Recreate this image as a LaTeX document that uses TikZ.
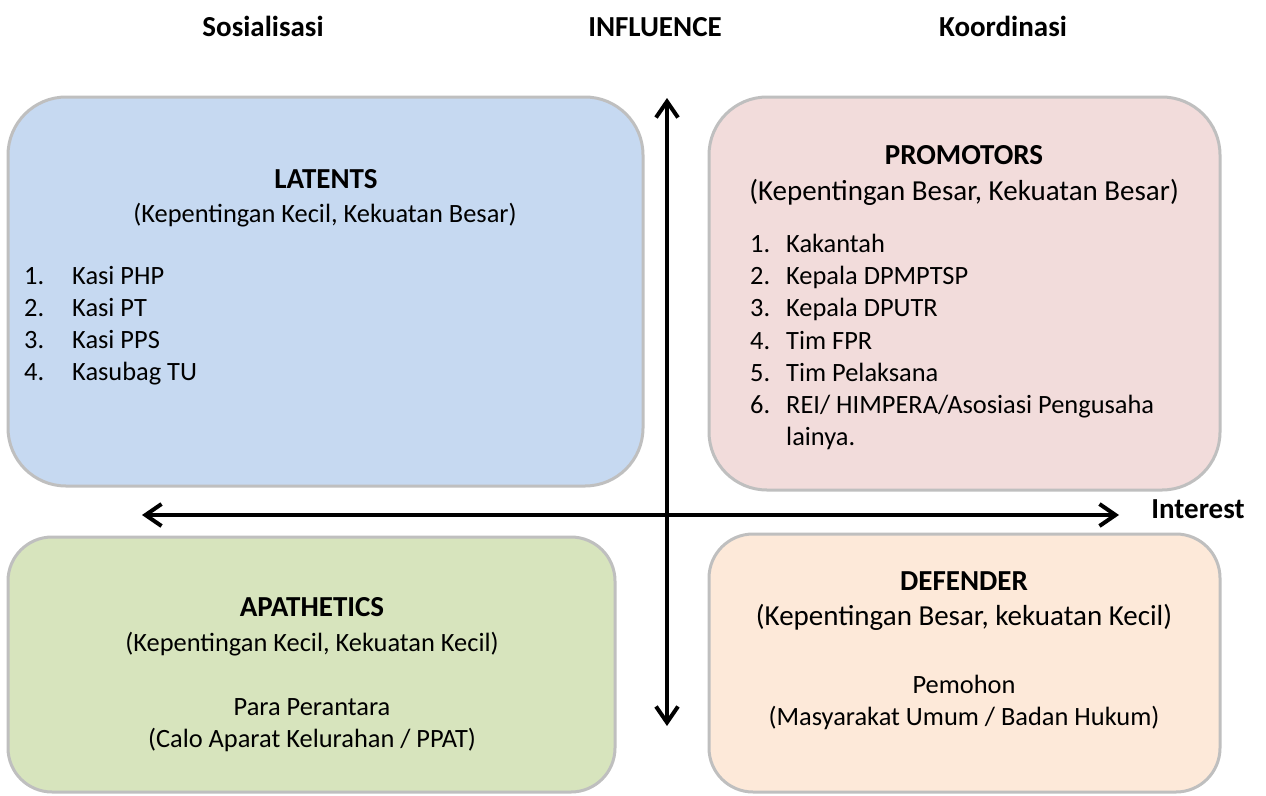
\documentclass[tikz,border=0pt]{standalone}
\usepackage{fontspec}
\setmainfont{Carlito}
\usetikzlibrary{arrows.meta}
\definecolor{boxblue}{HTML}{C6D9F1}
\definecolor{boxpink}{HTML}{F2DCDB}
\definecolor{boxgreen}{HTML}{D7E4BD}
\definecolor{boxorange}{HTML}{FDE9D9}
\definecolor{boxline}{HTML}{BFBFBF}
\begin{document}
\begin{tikzpicture}[x=1pt,y=-1pt,
  quad/.style={draw=boxline, line width=3pt, inner sep=0pt, outer sep=0pt},
  barb/.tip={Straight Barb[length=16pt,width=22pt,line width=4pt]},
  axisline/.style={line width=4pt, barb-barb},
  hd/.style={font=\fontsize{29}{34}\selectfont\bfseries, anchor=base, inner sep=0pt},
  bigsub/.style={font=\fontsize{29}{34}\selectfont, anchor=base, inner sep=0pt},
  sub/.style={font=\fontsize{26.4}{32}\selectfont, anchor=base, inner sep=0pt},
  item/.style={font=\fontsize{26.4}{32}\selectfont, anchor=base west, inner sep=0pt},
]
\useasboundingbox (0,0) rectangle (1266,795);
% boxes
\node[quad, fill=boxblue, rounded corners=58pt, minimum width=635pt, minimum height=389pt] (latents) at (325.5,291.5) {};
\node[quad, fill=boxpink, rounded corners=58pt, minimum width=511pt, minimum height=393pt] (promotors) at (964.5,293.5) {};
\node[quad, fill=boxgreen, rounded corners=44pt, minimum width=607pt, minimum height=255pt] (apathetics) at (311.5,664.5) {};
\node[quad, fill=boxorange, rounded corners=44pt, minimum width=511pt, minimum height=258pt] (defender) at (964.5,663) {};
% axes
\coordinate (vtop) at (667,98);
\coordinate (vbot) at (667,726);
\coordinate (hleft) at (142,515);
\coordinate (hright) at (1119,515);
\draw[axisline] (vbot) -- (vtop);
\draw[axisline] (hleft) -- (hright);
% headers
\node[hd] (sos) at (263,36) {Sosialisasi};
\node[hd] (infl) at (655,36) {INFLUENCE};
\node[hd] (koord) at (1003,36) {Koordinasi};
\node[hd] (interest) at (1198,518) {Interest};
% latents
\node[hd] (latT) at (326,188) {LATENTS};
\node[sub] (latS) at (325,222) {(Kepentingan Kecil, Kekuatan Besar)};
\node[item] (l1n) at (24,284) {1.};
\node[item] (l1) at (72,284) {Kasi PHP};
\node[item] (l2n) at (24,316) {2.};
\node[item] (l2) at (72,316) {Kasi PT};
\node[item] (l3n) at (24,348) {3.};
\node[item] (l3) at (72,348) {Kasi PPS};
\node[item] (l4n) at (24,380) {4.};
\node[item] (l4) at (72,380) {Kasubag TU};
% promotors
\node[hd] (proT) at (964,164) {PROMOTORS};
\node[bigsub] (proS) at (964,200) {(Kepentingan Besar, Kekuatan Besar)};
\node[item] (p1n) at (750,252) {1.};
\node[item] (p1) at (786,252) {Kakantah};
\node[item] (p2n) at (750,284) {2.};
\node[item] (p2) at (786,284) {Kepala DPMPTSP};
\node[item] (p3n) at (750,316) {3.};
\node[item] (p3) at (786,316) {Kepala DPUTR};
\node[item] (p4n) at (750,349) {4.};
\node[item] (p4) at (786,349) {Tim FPR};
\node[item] (p5n) at (750,381) {5.};
\node[item] (p5) at (786,381) {Tim Pelaksana};
\node[item] (p6n) at (750,413) {6.};
\node[item] (p6) at (786,413) {REI/ HIMPERA/Asosiasi Pengusaha};
\node[item] (p6b) at (786,445) {lainya.};
% apathetics
\node[hd] (apaT) at (312,616) {APATHETICS};
\node[sub] (apaS) at (312,651) {(Kepentingan Kecil, Kekuatan Kecil)};
\node[sub] (apa1) at (312,715) {Para Perantara};
\node[sub] (apa2) at (312,747) {(Calo Aparat Kelurahan / PPAT)};
% defender
\node[hd] (defT) at (964,590) {DEFENDER};
\node[bigsub] (defS) at (964,625) {(Kepentingan Besar, kekuatan Kecil)};
\node[sub] (def1) at (964,693) {Pemohon};
\node[sub] (def2) at (964,725) {(Masyarakat Umum / Badan Hukum)};
\end{tikzpicture}
\end{document}
